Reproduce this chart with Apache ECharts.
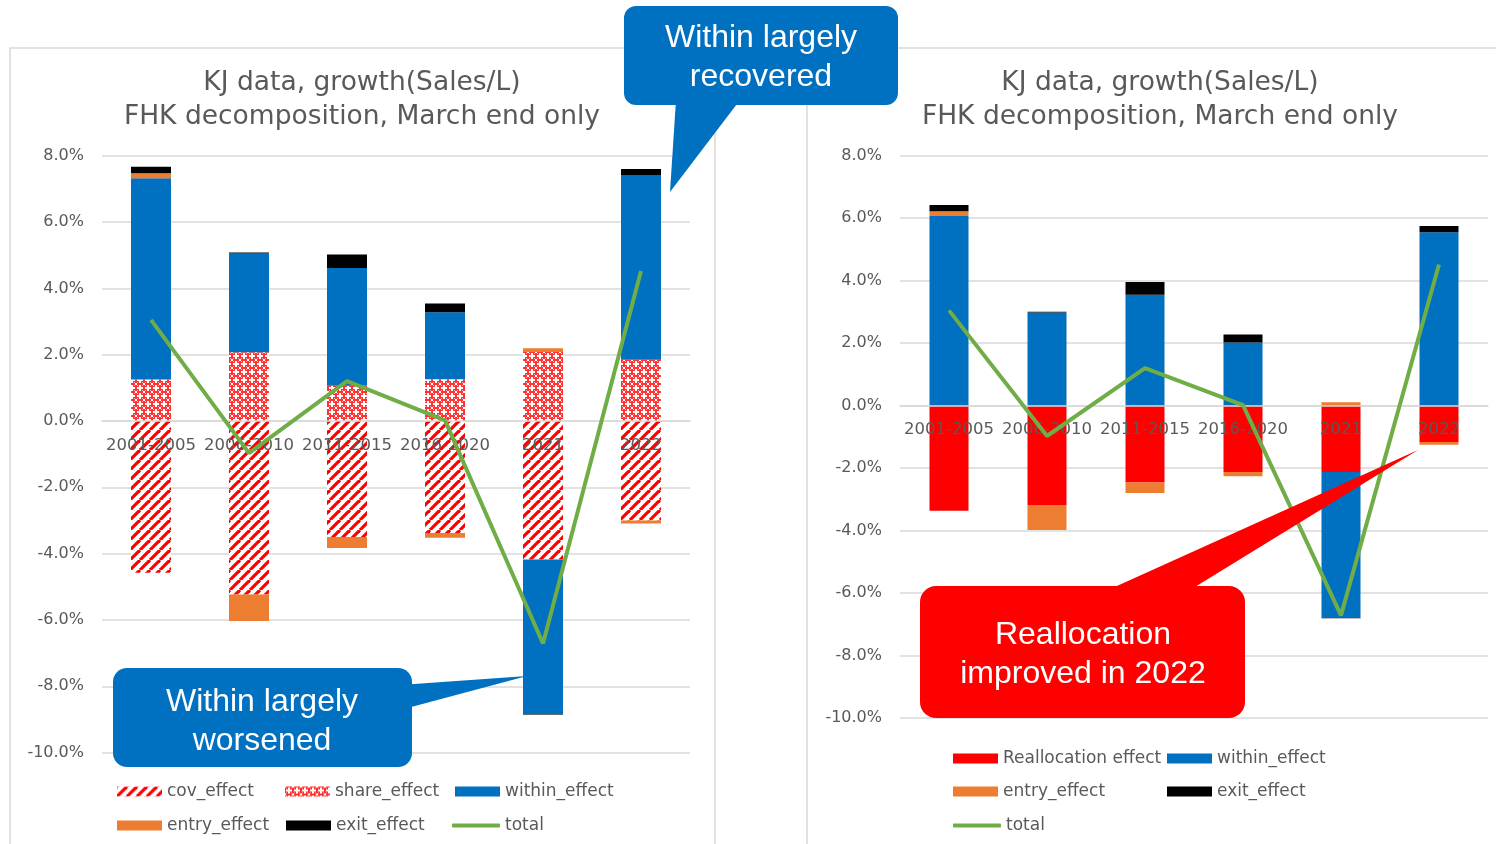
<!DOCTYPE html>
<html>
<head>
    <meta charset="utf-8">
    <title>FHK decomposition</title>
    <script src="https://cdn.jsdelivr.net/npm/echarts@6/dist/echarts.min.js"></script>
    <style>
        html, body { margin: 0; padding: 0; background: #fff; }
        #main { width: 1496px; height: 844px; }
    </style>
</head>
<body>
<div id="main"></div>
<script type="text/javascript">
    // values in %
    var categories = ['2001-2005', '2006-2010', '2011-2015', '2016-2020', '2021', '2022'];
    var covEffect = [-4.58, -5.23, -3.50, -3.38, -4.18, -3.00];
    var shareEffect = [1.25, 2.07, 1.06, 1.26, 2.08, 1.85];
    var withinEffect = [6.07, 2.98, 3.55, 2.02, -4.66, 5.55];
    var entryEffect = [0.15, -0.80, -0.33, -0.14, 0.11, -0.09];
    var exitEffect = [0.20, 0.03, 0.41, 0.26, -0.02, 0.20];
    var totalGrowth = [3.05, -0.97, 1.20, 0.02, -6.71, 4.52];
    // right panel: cov + share shown as one reallocation bar
    var reallocEffect = [-3.36, -3.18, -2.46, -2.12, -2.12, -1.16];

    var grey = '#595959';
    var axisFont = 'DejaVu Sans';

    // red / white diagonal stripes
    function stripePattern() {
        var c = document.createElement('canvas');
        c.width = 10; c.height = 10;
        var ctx = c.getContext('2d');
        ctx.fillStyle = '#fff';
        ctx.fillRect(0, 0, 10, 10);
        ctx.strokeStyle = '#ff0000';
        ctx.lineWidth = 3.2;
        for (var x0 = -10; x0 <= 10; x0 += 10) {
            ctx.beginPath();
            ctx.moveTo(x0, 10);
            ctx.lineTo(x0 + 10, 0);
            ctx.stroke();
        }
        return c;
    }

    // red with small white crosses
    function crossPattern() {
        var c = document.createElement('canvas');
        c.width = 8; c.height = 8;
        var ctx = c.getContext('2d');
        ctx.fillStyle = '#ff3030';
        ctx.fillRect(0, 0, 8, 8);
        ctx.fillStyle = '#fff';
        ctx.fillRect(3, 1, 2, 6);
        ctx.fillRect(1, 3, 6, 2);
        ctx.fillRect(0, 0, 1, 1);
        ctx.fillRect(7, 0, 1, 1);
        ctx.fillRect(0, 7, 1, 1);
        ctx.fillRect(7, 7, 1, 1);
        ctx.fillStyle = '#ffb0b0';
        ctx.fillRect(1, 1, 1, 1);
        ctx.fillRect(6, 6, 1, 1);
        ctx.fillRect(6, 1, 1, 1);
        ctx.fillRect(1, 6, 1, 1);
        return c;
    }

    var covColor = { image: stripePattern(), repeat: 'repeat' };
    var shareColor = { image: crossPattern(), repeat: 'repeat' };

    function yAxisFor(gridIndex) {
        return {
            type: 'value', gridIndex: gridIndex,
            min: -10, max: 8, interval: 2,
            axisLine: { show: false }, axisTick: { show: false },
            axisLabel: {
                color: grey, fontSize: 16, fontFamily: axisFont, margin: 18,
                formatter: function (v) { return v.toFixed(1) + '%'; }
            },
            splitLine: { lineStyle: { color: '#d9d9d9', width: 1.5 } }
        };
    }

    // category axis sits on the 0% line: offset up from the grid bottom
    function xAxisFor(gridIndex, offset) {
        return {
            type: 'category', gridIndex: gridIndex, data: categories,
            position: 'bottom', offset: offset,
            z: 10,
            axisLine: { onZero: false, lineStyle: { color: '#d9d9d9', width: 1.5 } },
            axisTick: { show: false },
            axisLabel: { color: grey, fontSize: 16.5, fontFamily: axisFont, margin: 16, interval: 0 }
        };
    }

    function bar(name, data, color, idx, width) {
        return {
            name: name, type: 'bar', stack: 'g' + idx,
            xAxisIndex: idx, yAxisIndex: idx,
            barWidth: width, data: data,
            itemStyle: { color: color }
        };
    }

    function totalLine(idx) {
        return {
            name: 'total', type: 'line', xAxisIndex: idx, yAxisIndex: idx,
            data: totalGrowth, symbol: 'none', z: 12,
            lineStyle: { color: '#70ad47', width: 4 },
            itemStyle: { color: '#70ad47' }
        };
    }

    function legendItem(name, left, top) {
        var isLine = name === 'total';
        return {
            data: [name], left: left, top: top, padding: 0,
            itemWidth: isLine ? 48 : 45, itemHeight: isLine ? 4 : 10,
            icon: isLine ? 'roundRect' : 'rect',
            itemGap: 4,
            textStyle: { color: grey, fontSize: 17, fontFamily: axisFont }
        };
    }

    function titleText(x, y, text) {
        return {
            type: 'text', z: 5,
            style: { text: text, x: x, y: y, fill: grey, font: '26.5px "DejaVu Sans"',
                textAlign: 'center', textVerticalAlign: 'middle' }
        };
    }

    function calloutText(x, y, text) {
        return {
            type: 'text', z: 101,
            style: { text: text, x: x, y: y, fill: '#fff', font: '32px "Liberation Sans"',
                textAlign: 'center', textVerticalAlign: 'middle' }
        };
    }

    var blue = '#0070c0';
    var red = '#ff0000';

    var option = {
        animation: false,
        grid: [
            { left: 102, right: 806, top: 155.7, bottom: 91.4 },
            { left: 900, right: 8, top: 155.7, bottom: 125.8 }
        ],
        xAxis: [xAxisFor(0, -331.6), xAxisFor(1, -312.5)],
        yAxis: [yAxisFor(0), yAxisFor(1)],
        legend: [
            legendItem('cov_effect', 117, 783),
            legendItem('share_effect', 285, 783),
            legendItem('within_effect', 455, 783),
            legendItem('entry_effect', 117, 817),
            legendItem('exit_effect', 286, 817),
            legendItem('total', 452, 817),
            legendItem('Reallocation effect', 953, 750),
            legendItem('within_effect', 1167, 750),
            legendItem('entry_effect', 953, 783),
            legendItem('exit_effect', 1167, 783),
            legendItem('total', 953, 817)
        ],
        series: [
            bar('cov_effect', covEffect, covColor, 0, 40),
            bar('share_effect', shareEffect, shareColor, 0, 40),
            bar('within_effect', withinEffect, blue, 0, 40),
            bar('entry_effect', entryEffect, '#ed7d31', 0, 40),
            bar('exit_effect', exitEffect, '#000', 0, 40),
            totalLine(0),
            bar('Reallocation effect', reallocEffect, red, 1, 39),
            bar('within_effect', withinEffect, blue, 1, 39),
            bar('entry_effect', entryEffect, '#ed7d31', 1, 39),
            bar('exit_effect', exitEffect, '#000', 1, 39),
            totalLine(1)
        ],
        graphic: [
            // panel frames
            { type: 'rect', z: -1, shape: { x: 10, y: 48, width: 705, height: 820 },
                style: { fill: 'none', stroke: '#d9d9d9', lineWidth: 1.5 } },
            { type: 'rect', z: -1, shape: { x: 807, y: 48, width: 720, height: 820 },
                style: { fill: 'none', stroke: '#d9d9d9', lineWidth: 1.5 } },
            titleText(362, 83, 'KJ data, growth(Sales/L)'),
            titleText(362, 117, 'FHK decomposition, March end only'),
            titleText(1160, 83, 'KJ data, growth(Sales/L)'),
            titleText(1160, 117, 'FHK decomposition, March end only'),

            // callout: within largely recovered
            { type: 'polygon', z: 100, shape: { points: [[676, 100], [740, 100], [670, 192]] },
                style: { fill: blue } },
            { type: 'rect', z: 100, shape: { x: 624, y: 6, width: 274, height: 99, r: 12 },
                style: { fill: blue } },
            calloutText(761, 38, 'Within largely'),
            calloutText(761, 77, 'recovered'),

            // callout: within largely worsened
            { type: 'polygon', z: 100, shape: { points: [[400, 685], [527, 676], [400, 710]] },
                style: { fill: blue } },
            { type: 'rect', z: 100, shape: { x: 113, y: 668, width: 299, height: 99, r: 14 },
                style: { fill: blue } },
            calloutText(262, 702, 'Within largely'),
            calloutText(262, 741, 'worsened'),

            // callout: reallocation improved
            { type: 'polygon', z: 100, shape: { points: [[1108, 590], [1418, 450], [1190, 590]] },
                style: { fill: red } },
            { type: 'rect', z: 100, shape: { x: 920, y: 586, width: 325, height: 132, r: 16 },
                style: { fill: red } },
            calloutText(1083, 635, 'Reallocation'),
            calloutText(1083, 674, 'improved in 2022')
        ]
    };

    var myChart = echarts.init(document.getElementById('main'));
    myChart.setOption(option);
</script>
</body>
</html>
